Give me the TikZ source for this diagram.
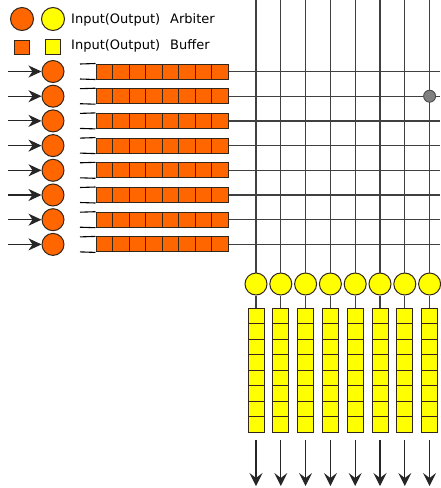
\documentclass[tikz,border=0pt]{standalone}
\usepackage{fontspec}
\setmainfont{DejaVu Sans}
\usetikzlibrary{arrows.meta}
\definecolor{arbOrange}{HTML}{FF6600}
\definecolor{arbYellow}{HTML}{FFFF00}
\definecolor{edgeDark}{HTML}{33261A}
\definecolor{wireGray}{HTML}{404040}
\definecolor{hitGray}{HTML}{808080}
\begin{document}
\begin{tikzpicture}[x=1pt,y=-1pt,
  iarb/.style={circle, draw=edgeDark, line width=1pt, fill=arbOrange, minimum size=22pt, inner sep=0pt},
  oarb/.style={circle, draw=edgeDark, line width=1pt, fill=arbYellow, minimum size=22pt, inner sep=0pt},
  icell/.style={rectangle, draw=edgeDark, line width=1pt, fill=arbOrange, minimum width=16.5pt, minimum height=15pt, inner sep=0pt},
  ocell/.style={rectangle, draw=edgeDark, line width=1pt, fill=arbYellow, minimum width=16pt, minimum height=15.5pt, inner sep=0pt},
  qline/.style={draw=black, line width=1.1pt},
  wire/.style={draw=wireGray, line width=1.3pt},
  inarrow/.style={draw=black!85, line width=1.1pt, -{Stealth[length=13pt,width=12pt,inset=4pt]}},
  outarrow/.style={draw=black!85, line width=1.1pt, -{Stealth[length=13pt,width=13pt,inset=5pt]}},
  hit/.style={circle, draw=black!70, line width=0.9pt, fill=hitGray, minimum size=12pt, inner sep=0pt},
  legend/.style={anchor=west, inner sep=0pt, font=\fontsize{13}{15}\selectfont}
]
\useasboundingbox (0,0) rectangle (440,488);

% legend
\node[iarb, minimum size=23pt] (lgIA) at (22,19) {};
\node[oarb, minimum size=23pt] (lgOA) at (53,19) {};
\node[legend] (lgA) at (71,20) {Input(Output)\hspace*{10pt}Arbiter};
\node[icell, minimum width=15pt, minimum height=14pt] (lgIB) at (22,47) {};
\node[ocell, minimum width=15pt, minimum height=15pt] (lgOB) at (53,47) {};
\node[legend] (lgB) at (71,46) {Input(Output)\hspace*{10pt}Buffer};

% output columns: wire from the top, arbiter, buffer, outgoing arrow
\foreach \j in {0,...,7} {
  \pgfmathsetmacro{\cx}{256+24.8*\j}
  \coordinate (top\j) at (\cx,0);
  \node[oarb] (out\j) at (\cx,284) {};
  \draw[wire] (top\j) -- (out\j);
  \foreach \k in {0,...,7} {
    \node[ocell] (ob\j-\k) at (\cx,{308+7.75+15.5*\k}) {};
  }
  \draw[wire] (out\j) -- (ob\j-0.north);
  \coordinate (ostart\j) at (\cx,440);
  \coordinate (osink\j) at (\cx,486);
  \draw[outarrow] (ostart\j) -- (osink\j);
}

% input rows: incoming arrow, arbiter, buffer, wire to the right
\foreach \i in {0,...,7} {
  \pgfmathsetmacro{\cy}{71.5+24.7*\i}
  \coordinate (src\i) at (8,\cy);
  \node[iarb] (in\i) at (53,\cy) {};
  \draw[inarrow] (src\i) -- (in\i);
  \foreach \k in {0,...,7} {
    \node[icell] (ib\i-\k) at ({96+8.25+16.5*\k},\cy) {};
  }
  \coordinate (qtop\i) at (80,{\cy-7.5});
  \coordinate (qbot\i) at (80,{\cy+7.5});
  \draw[qline] (qtop\i) -- (ib\i-0.north west);
  \draw[qline] (qbot\i) -- (ib\i-0.south west);
  \coordinate (rend\i) at (440,\cy);
  \draw[wire] (ib\i-7.east) -- (rend\i);
}

% a crosspoint in use
\node[hit] (hit) at (429.6,96.2) {};
\end{tikzpicture}
\end{document}
